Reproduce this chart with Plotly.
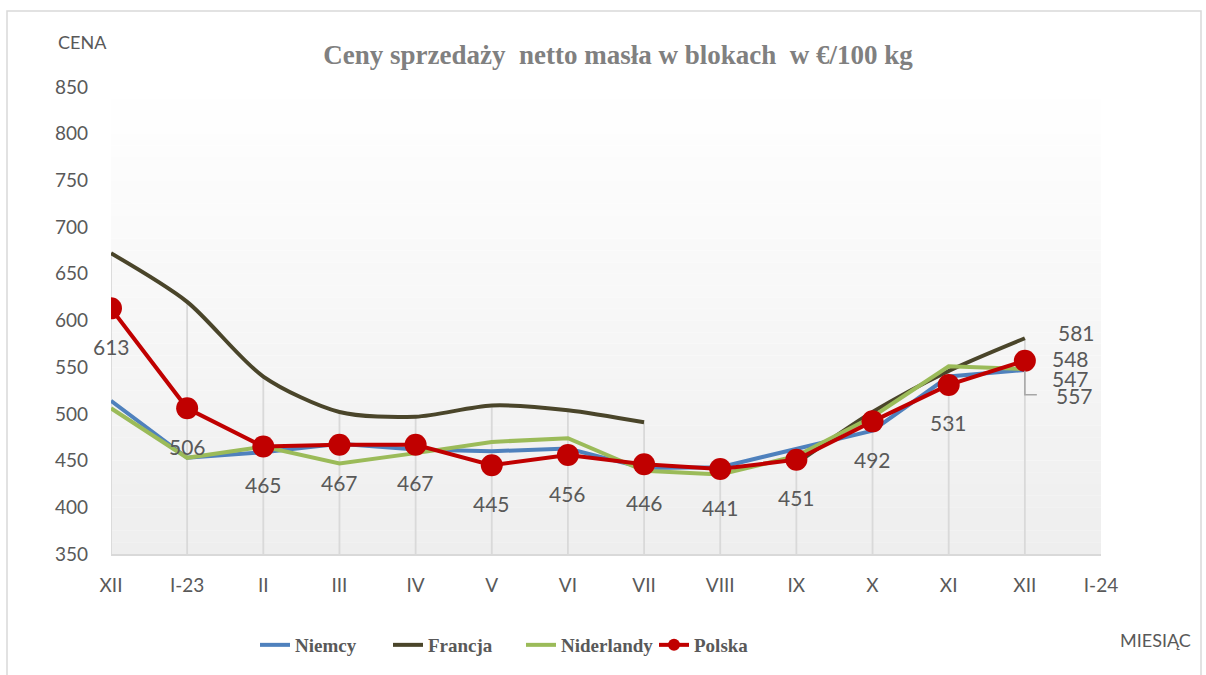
import plotly.graph_objects as go

# ---- data ----
months = ["XII", "I-23", "II", "III", "IV", "V", "VI", "VII", "VIII", "IX", "X", "XI", "XII", "I-24"]
niemcy = [514, 453, 459, 468, 462, 460, 463, 442, 443, 462, 482, 540, 547]
francja = [672, 620, 540, 502, 497, 509, 504, 491, None, 447, 502, 546, 581]
niderlandy = [506, 453, 465, 447, 458, 470, 474, 439, 435, 455, 497, 551, 548]
polska = [613, 506, 465, 467, 467, 445, 456, 446, 441, 451, 492, 531, 557]

# ---- layout geometry (pixels) ----
W, H = 1206, 675
L, R, T, B = 111, 1101, 87, 554
YMIN, YMAX = 350, 850


def px_x(p):
    return (p - L) / (R - L)


def px_y(p):
    return (B - p) / (B - T)


C_NIEMCY = "#4f81bd"
C_FRANCJA = "#4a452a"
C_NIDER = "#9bbb59"
C_POLSKA = "#c00000"
GRID = "#d9d9d9"
TXT = "#595959"
SANS = "Lato, 'Open Sans', sans-serif"
SERIF = "'Liberation Serif', 'DejaVu Serif', serif"

xs = list(range(len(polska)))

fig = go.Figure()

# drop lines (from highest value at each category to axis)
dx, dy = [], []
for i in xs:
    vals = [s[i] for s in (niemcy, francja, niderlandy, polska) if s[i] is not None]
    dx += [i, i, None]
    dy += [max(vals), YMIN, None]
fig.add_trace(go.Scatter(x=dx, y=dy, mode="lines", line=dict(color=GRID, width=1.8),
                         showlegend=False, hoverinfo="skip"))

fig.add_trace(go.Scatter(x=xs, y=niemcy, name="Niemcy", mode="lines",
                         line=dict(color=C_NIEMCY, width=4)))
fig.add_trace(go.Scatter(x=xs, y=francja, name="Francja", mode="lines",
                         line=dict(color=C_FRANCJA, width=4, shape="spline", smoothing=0.8),
                         connectgaps=False))
fig.add_trace(go.Scatter(x=xs, y=niderlandy, name="Niderlandy", mode="lines",
                         line=dict(color=C_NIDER, width=4)))
fig.add_trace(go.Scatter(x=xs, y=polska, name="Polska", mode="lines+markers",
                         line=dict(color=C_POLSKA, width=4),
                         marker=dict(color=C_POLSKA, size=22), showlegend=False))
# legend entry for Polska with a smaller marker (as in the reference legend)
fig.add_trace(go.Scatter(x=[None], y=[None], name="Polska", mode="lines+markers",
                         line=dict(color=C_POLSKA, width=4),
                         marker=dict(color=C_POLSKA, size=12)))

# gradient plot background
shapes = []
N = 40
for k in range(N):
    t = (k + 0.5) / N  # 0 top -> 1 bottom
    g = int(round(255 - t * (255 - 238)))
    shapes.append(dict(type="rect", xref="x domain", yref="y domain",
                       x0=0, x1=1, y0=1 - (k + 1) / N, y1=1 - k / N,
                       fillcolor=f"rgb({g},{g},{g})", line=dict(width=0), layer="below"))

# outer chart border
shapes.append(dict(type="rect", xref="paper", yref="paper",
                   x0=px_x(7), x1=px_x(1201), y0=px_y(700), y1=px_y(11),
                   line=dict(color="#d9d9d9", width=1.5), fillcolor="rgba(0,0,0,0)", layer="below"))

# leader line for last Polska label
last = len(polska) - 1
shapes.append(dict(type="path", xref="x", yref="y", xsizemode="pixel", ysizemode="pixel",
                   xanchor=last, yanchor=polska[last],
                   path="M0,-10 L0,-34 L12,-34", line=dict(color="#a6a6a6", width=1.5)))

annotations = []
# Polska data labels (below points)
for i, v in enumerate(polska[:-1]):
    annotations.append(dict(x=i, y=v, text=str(v), showarrow=False, yshift=-38,
                            font=dict(family=SANS, size=21, color=TXT)))
# end labels
end_labels = [
    (francja[last], 52, 6),
    (niderlandy[last], 46, 11),
    (niemcy[last], 46, -8),
    (polska[last], 50, -35),
]
for v, xsft, ysft in end_labels:
    annotations.append(dict(x=last, y=v, text=str(v), showarrow=False, xshift=xsft, yshift=ysft,
                            font=dict(family=SANS, size=21, color=TXT)))

annotations.append(dict(xref="paper", yref="paper", x=px_x(82), y=px_y(42), text="CENA",
                        xanchor="center", yanchor="middle",
                        showarrow=False, font=dict(family=SANS, size=18, color=TXT)))
annotations.append(dict(xref="paper", yref="paper", x=px_x(1155), y=px_y(640), text="MIESIĄC",
                        xanchor="center", yanchor="middle",
                        showarrow=False, font=dict(family=SANS, size=18, color=TXT)))

fig.update_layout(
    width=W, height=H,
    margin=dict(l=L, r=W - R, t=T, b=H - B),
    paper_bgcolor="white", plot_bgcolor="white",
    title=dict(text="Ceny sprzedaży  netto masła w blokach  w €/100 kg",
               x=618 / W, xanchor="center", y=1 - 55 / H, yanchor="middle",
               font=dict(family=SERIF, size=27, color="#808080", weight="bold")),
    xaxis=dict(range=[0, len(months) - 1], tickmode="array", tickvals=list(range(len(months))),
               ticktext=months, showgrid=False, zeroline=False, showline=True,
               linecolor=GRID, linewidth=2, ticks="", ticklabelstandoff=13,
               tickfont=dict(family=SANS, size=19, color=TXT)),
    yaxis=dict(range=[YMIN, YMAX], dtick=50, showgrid=False, zeroline=False, showline=False,
               ticks="", ticklabelstandoff=22,
               tickfont=dict(family=SANS, size=19, color=TXT)),
    legend=dict(orientation="h", xref="container", yref="container", x=521 / W, xanchor="center",
                y=1 - 645 / H, yanchor="middle", font=dict(family=SERIF, size=19, color=TXT, weight="bold"),
                itemwidth=30, entrywidth=88, entrywidthmode="pixels",
                tracegroupgap=0, bgcolor="rgba(0,0,0,0)"),
    shapes=shapes,
    annotations=annotations,
    showlegend=True,
)

fig.write_html("out.html", config={"displayModeBar": False},
               post_script="document.body.style.margin='0';document.body.style.overflow='hidden';")
